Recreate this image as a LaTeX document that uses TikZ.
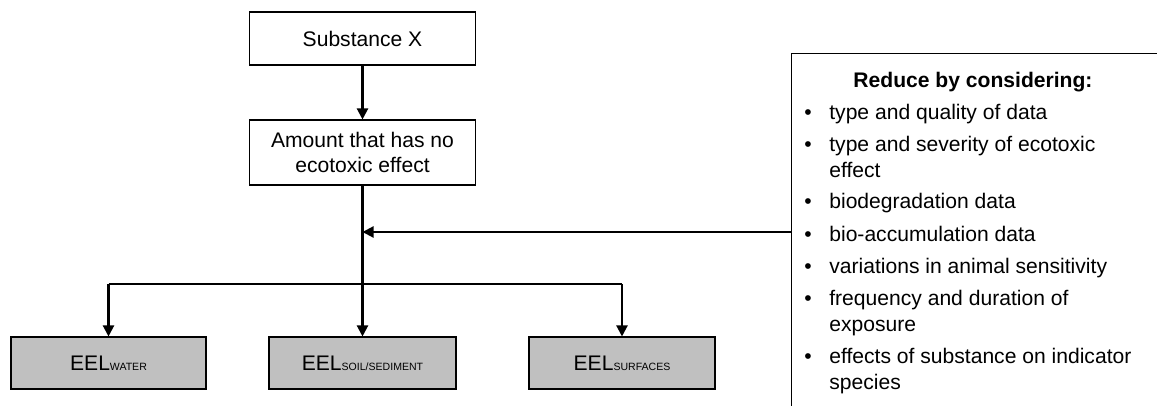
\documentclass[tikz,border=0pt]{standalone}
\usepackage{fontspec}
\setmainfont{Liberation Sans}
\usetikzlibrary{arrows.meta}
\definecolor{eelgray}{RGB}{192,192,192}
\newcommand{\eelsub}[1]{{\fontsize{6}{7}\selectfont #1}}

\begin{document}
\begin{tikzpicture}[x=1cm,y=1cm]
\tikzset{
  stepbox/.style={rectangle,draw,line width=0.6pt,minimum width=4.52cm,align=center,inner sep=2pt,font=\fontsize{12}{14.74}\selectfont},
  eelbox/.style={rectangle,draw,line width=0.6pt,fill=eelgray,minimum height=1.04cm,font=\fontsize{12}{14.74}\selectfont},
  directed/.style={-{Triangle[length=2.2mm,width=2.2mm]},line width=1.2pt},
  undirected/.style={line width=0.6pt},
  listtext/.style={anchor=base west,align=left,inner sep=0pt,font=\fontsize{12}{14.74}\selectfont},
  dot/.style={anchor=base,inner sep=0pt,font=\fontsize{12}{14.74}\selectfont}
}
\useasboundingbox (0,0) rectangle (23.14,8.10);
\clip (0,0) rectangle (23.14,8.10);
\node[stepbox,minimum height=1.06cm] (subst) at (7.25,7.33) {Substance X};
\node[stepbox,minimum height=1.30cm] (amount) at (7.25,5.05) {Amount that has no\\ecotoxic effect};
\node[eelbox,minimum width=3.90cm] (water) at (2.17,0.84) {EEL\eelsub{WATER}};
\node[eelbox,minimum width=3.74cm] (soil) at (7.25,0.84) {EEL\eelsub{SOIL/SEDIMENT}};
\node[eelbox,minimum width=3.72cm] (surf) at (12.44,0.84) {EEL\eelsub{SURFACES}};
\node[draw,line width=0.6pt,anchor=north west,minimum width=8cm,minimum height=8cm,inner sep=0pt] (reduce) at (15.82,7.04) {};
\node[font=\bfseries\fontsize{12}{14.74}\selectfont] (title) at (19.46,6.46) {Reduce by considering:};
% items: a two-line node sits on the base of its last line
\node[dot] (d1) at (16.16,5.71) {•};
\node[listtext] (i1) at (16.58,5.71) {type and quality of data};
\node[dot] (d2) at (16.16,5.07) {•};
\node[listtext] (i2) at (16.58,4.55) {type and severity of ecotoxic\\effect};
\node[dot] (d3) at (16.16,3.93) {•};
\node[listtext] (i3) at (16.58,3.93) {biodegradation data};
\node[dot] (d4) at (16.16,3.27) {•};
\node[listtext] (i4) at (16.58,3.27) {bio-accumulation data};
\node[dot] (d5) at (16.16,2.63) {•};
\node[listtext] (i5) at (16.58,2.63) {variations in animal sensitivity};
\node[dot] (d6) at (16.16,1.99) {•};
\node[listtext] (i6) at (16.58,1.47) {frequency and duration of\\exposure};
\node[dot] (d7) at (16.16,0.83) {•};
\node[listtext] (i7) at (16.58,0.31) {effects of substance on indicator\\species};
\coordinate (split) at (7.25,2.42);
\coordinate (join) at (7.25,3.46);
\draw[directed] (subst) -- (amount);
\draw[directed] (amount) -- (soil);
\draw[undirected] (split -| water.north) -- (split -| surf.north);
\draw[directed] (split -| water.north) -- (water.north);
\draw[directed] (split -| surf.north) -- (surf.north);
\draw[directed] (reduce.west |- join) -- (join);
\end{tikzpicture}
\end{document}
